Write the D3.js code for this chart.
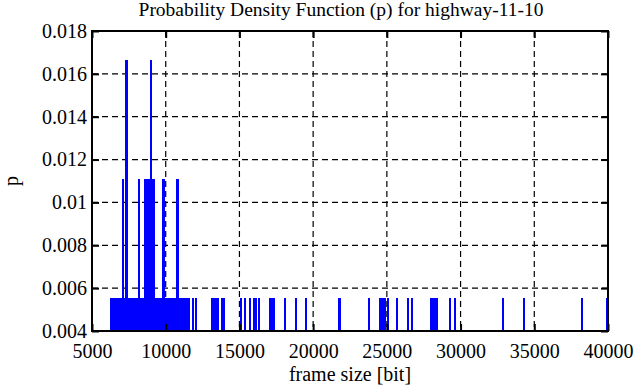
<!DOCTYPE html>
<html>
<head>
<meta charset="utf-8">
<script src="https://cdn.jsdelivr.net/npm/d3@7"></script>
<style>
  body { margin: 0; background: #fff; }
  svg text { font-family: "Liberation Serif", "Times New Roman", serif; fill: #000; }
</style>
</head>
<body>
<svg id="chart"></svg>
<script>
// frame sizes [bit]
var frameSizes = [
  6289, 6425, 6560,
  6696, 6831, 6967, 7103, 7238, 7354, 7510, 7645, 7781, 7917, 8052, 8188,
  8324, 8459, 8642, 8798, 8900, 9002, 9104, 9205, 9341, 9477, 9612, 9735,
  9863, 10019, 10154, 10290, 10426, 10562, 10697, 10813, 10935,
  11139, 11275, 11410, 11546, 11851, 12054,
  13140, 13275, 13411, 13547, 13818, 13954,
  15107, 15378, 15717, 16000, 16130, 16328, 17074, 17176, 17345,
  18091, 18837, 19516, 21788, 23789, 24535, 24671, 24840, 25078,
  25689, 26435, 26706, 27995, 28131, 28266, 28368, 29283, 29622,
  32878, 34302, 38237, 39932
];
// probability of each frame size
var probs = [
  0.00556, 0.00556, 0.00556,
  0.00556, 0.00556, 0.00556, 0.01111, 0.00556, 0.01667, 0.00556, 0.00556, 0.00556, 0.00556, 0.00556, 0.01111,
  0.00556, 0.00556, 0.01111, 0.01111, 0.01111, 0.01667, 0.01111, 0.01111, 0.00556, 0.00556, 0.00556, 0.00556,
  0.01111, 0.00556, 0.00556, 0.00556, 0.00556, 0.00556, 0.00556, 0.01111, 0.00556,
  0.00556, 0.00556, 0.00556, 0.00556, 0.00556, 0.00556,
  0.00556, 0.00556, 0.00556, 0.00556, 0.00556, 0.00556,
  0.00556, 0.00556, 0.00556, 0.00556, 0.00556, 0.00556, 0.00556, 0.00556, 0.00556,
  0.00556, 0.00556, 0.00556, 0.00556, 0.00556, 0.00556, 0.00556, 0.00556, 0.00556,
  0.00556, 0.00556, 0.00556, 0.00556, 0.00556, 0.00556, 0.00556, 0.00556, 0.00556,
  0.00556, 0.00556, 0.00556, 0.00556
];
var xTicks = [5000, 10000, 15000, 20000, 25000, 30000, 35000, 40000];
var yTicks = [0.004, 0.006, 0.008, 0.01, 0.012, 0.014, 0.016, 0.018];

var serif = "'Liberation Serif', 'Times New Roman', serif";
var width = 636, height = 387;
var margin = { top: 31, right: 28, bottom: 56, left: 92 };
var w = width - margin.left - margin.right,
    h = height - margin.top - margin.bottom;

var svg = d3.select("#chart")
    .attr("width", width)
    .attr("height", height);

var x = d3.scaleLinear().domain([5000, 40000]).range([0, w]);
var y = d3.scaleLinear().domain([0.004, 0.018]).range([h, 0]);

var g = svg.append("g")
    .attr("transform", "translate(" + margin.left + "," + margin.top + ")");

// dashed grid
g.selectAll(".gx")
    .data(xTicks.slice(1, -1))
  .enter().append("line")
    .attr("x1", function(d) { return x(d); })
    .attr("x2", function(d) { return x(d); })
    .attr("y1", 0).attr("y2", h)
    .attr("stroke", "#000").attr("stroke-width", 1.2)
    .attr("stroke-dasharray", "6,4");

g.selectAll(".gy")
    .data(yTicks.slice(1, -1))
  .enter().append("line")
    .attr("y1", function(d) { return y(d); })
    .attr("y2", function(d) { return y(d); })
    .attr("x1", 0).attr("x2", w)
    .attr("stroke", "#000").attr("stroke-width", 1.2)
    .attr("stroke-dasharray", "6,4");

// impulses
var data = frameSizes.map(function(d, i) { return { size: d, p: probs[i] }; });

g.selectAll(".imp")
    .data(data)
  .enter().append("line")
    .attr("class", "imp")
    .attr("x1", function(d) { return x(d.size); })
    .attr("x2", function(d) { return x(d.size); })
    .attr("y1", h)
    .attr("y2", function(d) { return y(d.p); })
    .attr("stroke", "#0000ff")
    .attr("stroke-width", 2.5)
    .attr("shape-rendering", "crispEdges");

// axes with inward, mirrored ticks
var tl = 7;
var xAxis = d3.axisBottom(x).tickValues(xTicks).tickSize(-tl).tickPadding(13)
    .tickFormat(d3.format("d"));
var yAxis = d3.axisLeft(y).tickValues(yTicks).tickSize(-tl).tickPadding(5)
    .tickFormat(function(d) { return String(+d.toFixed(3)); });

var gx = g.append("g").attr("transform", "translate(0," + h + ")").call(xAxis);
var gy = g.append("g").call(yAxis);
g.append("g").call(d3.axisTop(x).tickValues(xTicks).tickSize(-tl).tickFormat(""));
g.append("g").attr("transform", "translate(" + w + ",0)")
    .call(d3.axisRight(y).tickValues(yTicks).tickSize(-tl).tickFormat(""));

g.selectAll(".domain").remove();
g.selectAll(".tick line").attr("stroke", "#000").attr("stroke-width", 2);
gx.selectAll("text").style("font-family", serif).style("font-size", "20px");
gy.selectAll("text").style("font-family", serif).style("font-size", "20px");

// frame
g.append("rect")
    .attr("width", w).attr("height", h)
    .attr("fill", "none").attr("stroke", "#000").attr("stroke-width", 2);

// titles
svg.append("text")
    .attr("x", 341).attr("y", 16)
    .attr("text-anchor", "middle").style("font-size", "19.5px")
    .text("Probability Density Function (p) for highway-11-10");

svg.append("text")
    .attr("x", margin.left + w / 2).attr("y", 381)
    .attr("text-anchor", "middle").style("font-size", "20px")
    .text("frame size [bit]");

svg.append("text")
    .attr("transform", "translate(18," + (margin.top + h / 2) + ") rotate(-90)")
    .attr("text-anchor", "middle").style("font-size", "20px")
    .text("p");
</script>
</body>
</html>
